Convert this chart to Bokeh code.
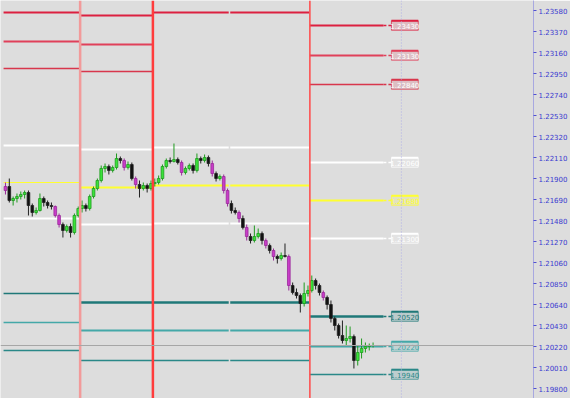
from bokeh.plotting import figure
from bokeh.models import Range1d, FixedTicker, NumeralTickFormatter, Label, Span, ColumnDataSource
from bokeh.embed import file_html
from bokeh.resources import INLINE
from bokeh.core.properties import value

nan = float("nan")

# ---- candle data (price) ----
opens = [1.2182, 1.2182, 1.2168, 1.2170, 1.2172, 1.2174, 1.2176, 1.2163, 1.2156, 1.2158,
         1.2170, 1.2166, 1.2163, 1.2162, 1.2153, 1.2144, 1.2138, 1.2142, 1.2136, 1.2153,
         1.2160, 1.2163, 1.2160, 1.2172, 1.2180, 1.2188, 1.2200, 1.2202, 1.2198, 1.2201,
         1.2210, 1.2208, 1.2201, 1.2204, 1.2190, 1.2184, 1.2180, 1.2183, 1.2180, 1.2185,
         1.2186, 1.2190, 1.2202, 1.2208, 1.2207, 1.2209, 1.2206, 1.2196, 1.2200, 1.2203,
         1.2198, 1.2210, 1.2208, 1.2211, 1.2205, 1.2195, 1.2190, 1.2192, 1.2178, 1.2165,
         1.2158, 1.2156, 1.2150, 1.2141, 1.2132, 1.2128, 1.2132, 1.2135, 1.2128, 1.2123,
         1.2118, 1.2112, 1.2110, 1.2113, 1.2112, 1.2083, 1.2076, 1.2073, 1.2065, 1.2075,
         1.2078, 1.2088, 1.2083, 1.2076, 1.2071, 1.2064, 1.2050, 1.2043, 1.2033, 1.2028,
         1.2030, 1.2032, 1.2008, 1.2016, 1.2020, 1.2022, 1.2023]
highs = [1.2186, 1.2190, 1.2172, 1.2175, 1.2177, 1.2178, 1.2178, 1.2165, 1.2161, 1.2175,
         1.2172, 1.2168, 1.2166, 1.2163, 1.2155, 1.2146, 1.2144, 1.2145, 1.2155, 1.2162,
         1.2168, 1.2165, 1.2174, 1.2182, 1.2190, 1.2203, 1.2205, 1.2204, 1.2203, 1.2215,
         1.2212, 1.2210, 1.2207, 1.2206, 1.2192, 1.2188, 1.2186, 1.2185, 1.2188, 1.2190,
         1.2193, 1.2204, 1.2210, 1.2211, 1.2225, 1.2211, 1.2208, 1.2202, 1.2205, 1.2205,
         1.2215, 1.2212, 1.2214, 1.2213, 1.2208, 1.2197, 1.2194, 1.2194, 1.2180, 1.2168,
         1.2161, 1.2158, 1.2153, 1.2144, 1.2135, 1.2143, 1.2140, 1.2137, 1.2130, 1.2125,
         1.2120, 1.2114, 1.2116, 1.2125, 1.2114, 1.2086, 1.2080, 1.2075, 1.2086, 1.2083,
         1.2093, 1.2090, 1.2085, 1.2078, 1.2073, 1.2068, 1.2052, 1.2045, 1.2048, 1.2043,
         1.2042, 1.2034, 1.2023, 1.2030, 1.2026, 1.2025, 1.2026]
lows = [1.2174, 1.2166, 1.2163, 1.2166, 1.2169, 1.2170, 1.2153, 1.2152, 1.2154, 1.2157,
        1.2162, 1.2160, 1.2159, 1.2151, 1.2141, 1.2131, 1.2136, 1.2131, 1.2134, 1.2151,
        1.2156, 1.2157, 1.2158, 1.2170, 1.2178, 1.2186, 1.2196, 1.2194, 1.2196, 1.2199,
        1.2205, 1.2198, 1.2199, 1.2188, 1.2180, 1.2171, 1.2178, 1.2176, 1.2178, 1.2182,
        1.2184, 1.2188, 1.2200, 1.2205, 1.2206, 1.2204, 1.2193, 1.2194, 1.2198, 1.2195,
        1.2196, 1.2205, 1.2206, 1.2202, 1.2192, 1.2187, 1.2188, 1.2175, 1.2162, 1.2155,
        1.2154, 1.2146, 1.2139, 1.2128, 1.2125, 1.2126, 1.2130, 1.2124, 1.2120, 1.2115,
        1.2108, 1.2105, 1.2108, 1.2111, 1.2078, 1.2074, 1.2070, 1.2056, 1.2062, 1.2072,
        1.2076, 1.2079, 1.2073, 1.2068, 1.2059, 1.2046, 1.2038, 1.2030, 1.2025, 1.2023,
        1.2026, 1.2000, 1.2003, 1.2010, 1.2016, 1.2018, 1.2021]
closes = [1.2178, 1.2168, 1.2170, 1.2172, 1.2174, 1.2176, 1.2163, 1.2156, 1.2158, 1.2170,
          1.2166, 1.2163, 1.2162, 1.2153, 1.2144, 1.2138, 1.2142, 1.2136, 1.2153, 1.2160,
          1.2163, 1.2160, 1.2172, 1.2180, 1.2188, 1.2200, 1.2202, 1.2198, 1.2201, 1.2210,
          1.2208, 1.2201, 1.2204, 1.2190, 1.2184, 1.2180, 1.2183, 1.2180, 1.2185, 1.2186,
          1.2190, 1.2202, 1.2208, 1.2207, 1.2209, 1.2206, 1.2196, 1.2200, 1.2203, 1.2198,
          1.2210, 1.2208, 1.2211, 1.2205, 1.2195, 1.2190, 1.2192, 1.2178, 1.2165, 1.2158,
          1.2156, 1.2150, 1.2141, 1.2132, 1.2128, 1.2132, 1.2135, 1.2128, 1.2123, 1.2118,
          1.2112, 1.2110, 1.2113, 1.2112, 1.2083, 1.2076, 1.2073, 1.2065, 1.2075, 1.2078,
          1.2088, 1.2083, 1.2076, 1.2071, 1.2064, 1.2050, 1.2043, 1.2033, 1.2028, 1.2030,
          1.2032, 1.2008, 1.2016, 1.2020, 1.2022, 1.2023, 1.2023]
kinds = list("mkggggkkggkkkmmkgkgg" "gkgggggkggkmgkmkgkg" "ggggkgkmggkgkgkmkgmm" "kkmkmkggkmkmkgkmkkkgg"
             "gkkmkkkkkggkggggg")

# ---- pivot levels per period ----
period_start = [-0.5, 19.5, 38.5, 58.7, 79.5]
period_end = [19.3, 38.3, 58.3, 79.3, 98.7]
r3 = [1.2356, 1.2353, 1.2356, 1.2356, 1.2343]
r2 = [1.2327, 1.2324, nan, nan, 1.2313]
r1 = [1.2300, 1.2297, nan, nan, 1.2284]
w_hi = [1.2223, 1.2219, 1.2221, 1.2221, 1.2206]
pivot = [1.2186, 1.2181, 1.2183, 1.2183, 1.2168]
w_lo = [1.2150, 1.2144, 1.2145, 1.2145, 1.2130]
s1 = [1.2075, 1.2066, 1.2066, 1.2066, 1.2052]
s2 = [1.2046, 1.2038, 1.2038, 1.2038, 1.2022]
s3 = [1.2018, 1.2008, 1.2008, 1.2008, 1.1994]
separators = [19.5, 38.5, 79.5]
current_price = 1.2023
price_ticks = [1.2358, 1.2337, 1.2316, 1.2295, 1.2274, 1.2253, 1.2232, 1.2211, 1.2190,
               1.2169, 1.2148, 1.2127, 1.2106, 1.2085, 1.2064, 1.2043, 1.2022, 1.2001, 1.1980]

BG = "#dddddd"
p = figure(width=570, height=398, output_backend="svg", toolbar_location=None,
           x_range=Range1d(-1.3, 137.9), y_range=Range1d(1.1970, 1.2368),
           x_axis_location=None, y_axis_location="right",
           min_border_left=0, min_border_top=0, min_border_bottom=0, min_border_right=34,
           background_fill_color=BG, border_fill_color=BG, outline_line_color=None)
p.grid.visible = False

ax = p.yaxis[0]
ax.ticker = FixedTicker(ticks=price_ticks)
ax.formatter = NumeralTickFormatter(format="0.00000")
ax.axis_line_color = "#a8a8e0"
ax.major_tick_line_color = "#5050d0"
ax.major_tick_in = 0
ax.major_tick_out = 3
ax.minor_tick_line_color = None
ax.major_label_text_color = "#3a3ad0"
ax.major_label_text_font = "DejaVu Sans"
ax.major_label_text_font_size = "7px"
ax.major_label_standoff = 2

# separators
sep_colors = ["#f29a9a", "#ff3c3c", "#ff4848"]
sep_widths = [2.5, 2.5, 1.5]
for loc, c, w in zip(separators, sep_colors, sep_widths):
    p.add_layout(Span(location=loc, dimension="height", line_color=c, line_width=w))

# label column dotted line
p.add_layout(Span(location=103.4, dimension="height", line_color="#b0b0e6",
                  line_width=1, line_dash="1 2"))
# current price line
p.add_layout(Span(location=current_price, dimension="width", line_color="#a6a6a6", line_width=1))

levels = [
    (r3, "#dc2040", 2), (r2, "#e0405a", 2), (r1, "#d8364c", 1.5),
    (w_hi, "#ffffff", 2), (pivot, "#ffff30", 2), (w_lo, "#ffffff", 2),
    (s1, "#1f7878", 2.5), (s2, "#44a8a8", 2), (s3, "#2a8888", 1.5),
]
for vals, col, w in levels:
    widths = [w] * 5
    if col == "#ffff30":
        widths[0] = 1
    if col.startswith("#1f") or col.startswith("#44") or col.startswith("#2a"):
        widths[0] = 1.5
    p.segment(x0=period_start, x1=period_end, y0=vals, y1=vals,
              line_color=col, line_width=widths)
    # dashed connector to the label and label box for the current period
    p.segment(x0=[period_end[-1]], x1=[100.8], y0=[vals[-1]], y1=[vals[-1]],
              line_color=col, line_width=1.5, line_dash="3 2")
    p.rect(x=[104.3], y=[vals[-1]], width=7, height=0.00095,
           fill_color=col, fill_alpha=0.18, line_color=col, line_alpha=0.7, line_width=1)
    p.segment(x0=[100.8], x1=[107.8], y0=[vals[-1] + 0.00048], y1=[vals[-1] + 0.00048],
              line_color=col, line_width=2)
    txt_col = "#ffffff" if col.startswith("#d") or col.startswith("#e") else col
    p.text(x=[104.3], y=[vals[-1]], text=["%.5f" % vals[-1]], text_color=txt_col,
           text_font=value("DejaVu Sans"), text_font_size="7px",
           text_align="center", text_baseline="middle")

# candles
fill_map = {"g": "#3ae33a", "k": "#111111", "m": "#c83cc8"}
edge_map = {"g": "#1f9a1f", "k": "#222222", "m": "#9a2a9a"}
xs = list(range(len(closes)))
src = ColumnDataSource(dict(
    x=xs, h=highs, l=lows,
    top=[max(o, c) for o, c in zip(opens, closes)],
    bot=[min(o, c) for o, c in zip(opens, closes)],
    fill=[fill_map[k] for k in kinds],
    edge=[edge_map[k] for k in kinds],
))
p.segment(x0="x", x1="x", y0="h", y1="l", line_color="edge", line_width=1, source=src)
p.vbar(x="x", width=0.7, top="top", bottom="bot", fill_color="fill",
       line_color="edge", line_width=0.8, source=src)

# current price tag on the axis
p.add_layout(Label(x=537, y=current_price, x_units="screen", y_units="data",
                   text="%.5f" % current_price, text_color="white",
                   text_font="DejaVu Sans", text_font_size="7px", text_baseline="middle",
                   background_fill_color="#1414e6"))

open("out.html", "w").write(file_html(p, INLINE))
